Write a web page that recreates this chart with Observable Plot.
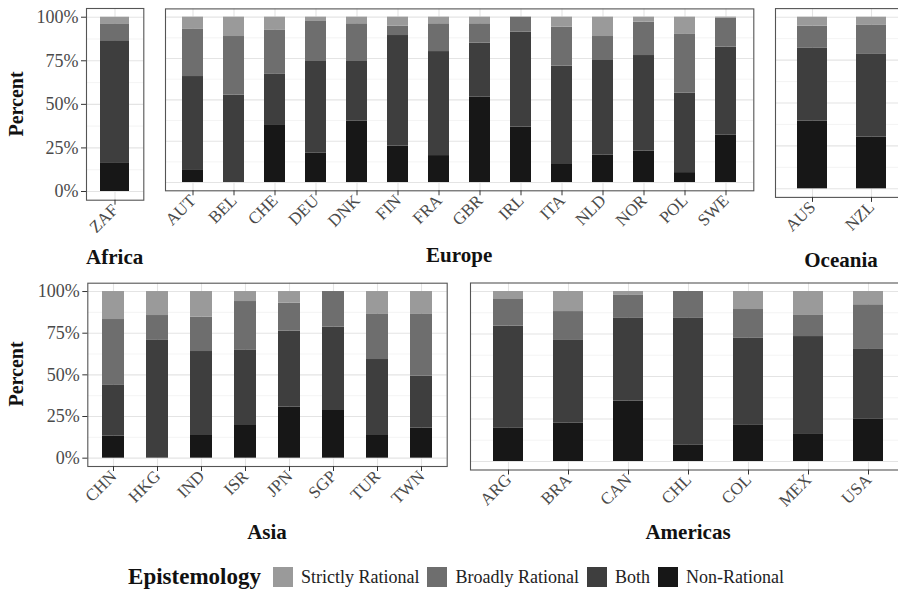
<!DOCTYPE html>
<html>
<head>
<meta charset="utf-8">
<script src="https://cdn.jsdelivr.net/npm/d3@7"></script>
<script src="https://cdn.jsdelivr.net/npm/@observablehq/plot@0.6"></script>
<style>
  html, body { margin: 0; padding: 0; background: #fff; }
  #wrap { position: relative; width: 898px; height: 594px; overflow: hidden; background: #fff; font-family: "Liberation Serif", serif; }
  #wrap svg { position: absolute; left: 0; top: 0; }
  .facet { position: absolute; font-weight: bold; font-size: 21px; line-height: 1; color: #111; transform: translateX(-50%); white-space: nowrap; }
  .ylab { position: absolute; font-weight: bold; font-size: 20px; line-height: 1; color: #111; transform: translate(-50%, -50%) rotate(-90deg); white-space: nowrap; }
  #legend { position: absolute; left: 0; width: 916px; top: 564px; display: flex; justify-content: center; align-items: center; font-size: 18px; color: #222; white-space: nowrap; }
  #legend .title { font-weight: bold; font-size: 23px; margin-right: 8px; color: #111; }
  #legend .sw { width: 20px; height: 20px; margin: 0 8px 0 4px; }
  #legend .lab { margin-right: 4px; }
</style>
</head>
<body>
<div id="wrap"></div>
<script>
// ---- data ----
const categories = ["Non-Rational", "Both", "Broadly Rational", "Strictly Rational"];
const legendOrder = ["Strictly Rational", "Broadly Rational", "Both", "Non-Rational"];
const fillColors = ["#171717", "#3e3e3e", "#6e6e6e", "#9a9a9a"];

const africa = ["ZAF"];
const europe = ["AUT","BEL","CHE","DEU","DNK","FIN","FRA","GBR","IRL","ITA","NLD","NOR","POL","SWE"];
const oceania = ["AUS","NZL"];
const asia = ["CHN","HKG","IND","ISR","JPN","SGP","TUR","TWN"];
const americas = ["ARG","BRA","CAN","CHL","COL","MEX","USA"];

const countries = [...africa, ...europe, ...oceania, ...asia, ...americas];
// percentages per country (same order as countries)
const nonRational      = [16.5, 7.3, 0, 34.5, 17.7, 37.1, 22.0, 16.3, 51.6, 33.5, 10.9, 16.5, 19.0, 6.0, 28.8, 39.4, 30.1, 13.2, 0, 13.6, 19.6, 30.6, 28.6, 13.6, 18.0, 19.8, 22.5, 35.5, 9.8, 21.6, 15.9, 25.1];
const both             = [70.0, 56.8, 52.8, 31.2, 55.5, 36.1, 66.9, 62.9, 32.7, 57.4, 59.5, 57.3, 57.8, 48.0, 53.1, 42.7, 48.2, 30.8, 71.0, 50.4, 45.4, 45.6, 50.0, 45.6, 31.2, 59.8, 48.7, 49.0, 74.7, 51.1, 57.6, 41.2];
const broadlyRational  = [9.7, 28.8, 35.5, 26.6, 24.2, 22.8, 5.7, 16.8, 11.7, 9.1, 23.6, 14.5, 20.2, 35.9, 17.5, 12.7, 17.2, 39.2, 14.6, 20.6, 29.0, 16.8, 21.4, 27.4, 37.4, 15.7, 17.0, 13.5, 15.5, 16.7, 12.4, 25.9];
const strictlyRational = [3.8, 7.1, 11.7, 7.7, 2.6, 4.0, 5.4, 4.0, 4.0, 0, 6.0, 11.7, 3.0, 10.1, 0.6, 5.2, 4.5, 16.8, 14.4, 15.4, 6.0, 7.0, 0, 13.4, 13.4, 4.7, 11.8, 2.0, 0, 10.6, 14.1, 7.8];

const yMajor = [0, 0.25, 0.5, 0.75, 1];
const yMinor = [0.125, 0.375, 0.625, 0.875];

// build long table
const series = [nonRational, both, broadlyRational, strictlyRational];
const rows = [];
countries.forEach((c, i) => {
  categories.forEach((cat, k) => rows.push({country: c, category: cat, value: series[k][i] / 100}));
});

const wrap = document.getElementById("wrap");
const W = 920, H = 594;

const panels = [
  {name: "Africa",   list: africa,   L: 86,   R: 143.3, T: 8,     B: 199.7, po: 0.24, yaxis: true,  titleY: 265},
  {name: "Europe",   list: europe,   L: 165,  R: 753.3, T: 8.4,   B: 190.3, po: 0.35, yaxis: false, titleY: 263},
  {name: "Oceania",  list: oceania,  L: 775,  R: 907,   T: 8.1,   B: 196.9, po: 0.35, yaxis: false, titleY: 268},
  {name: "Asia",     list: asia,     L: 87.3, R: 446.7, T: 282.7, B: 466,   po: 0.33, yaxis: true,  titleY: 540},
  {name: "Americas", list: americas, L: 470,  R: 906,   T: 282.5, B: 469.5, po: 0.35, yaxis: false, titleY: 540}
];

panels.forEach(p => {
  const data = rows.filter(r => p.list.includes(r.country));
  const marks = [
    Plot.gridY(yMinor, {stroke: "#ededed", strokeWidth: 0.6, strokeOpacity: 1}),
    Plot.gridY(yMajor, {stroke: "#e4e4e4", strokeWidth: 1.1, strokeOpacity: 1}),
    Plot.gridX({stroke: "#e4e4e4", strokeWidth: 1.1, strokeOpacity: 1}),
    Plot.barY(data, {x: "country", y: "value", fill: "category"}),
    Plot.frame({stroke: "#555", strokeWidth: 1.1}),
    Plot.axisX({tickSize: 5, tickPadding: 2, tickRotate: -45, fontSize: 17, stroke: "#333", color: "#4a4a4a", label: null})
  ];
  if (p.yaxis) {
    marks.push(Plot.axisY(yMajor, {tickSize: 5, tickPadding: 3, fontSize: 18, stroke: "#333", color: "#4a4a4a", label: null, tickFormat: d => Math.round(d * 100) + "%"}));
  }
  const svg = Plot.plot({
    width: W, height: H,
    marginLeft: p.L, marginRight: W - p.R, marginTop: p.T, marginBottom: H - p.B,
    x: {domain: p.list, paddingInner: 0.5, paddingOuter: p.po, align: 0.5, label: null},
    y: {domain: [-0.05, 1.05], label: null, axis: p.yaxis ? undefined : null},
    color: {domain: categories, range: fillColors},
    style: {background: "transparent", fontFamily: "Liberation Serif", maxWidth: "none", overflow: "visible"},
    marks
  });
  wrap.appendChild(svg);

  const t = document.createElement("div");
  t.className = "facet";
  t.textContent = p.name;
  t.style.left = ((p.L + p.R) / 2) + "px";
  t.style.top = (p.titleY - 0.837 * 21) + "px";
  wrap.appendChild(t);
});

[[16, 104], [16, 374]].forEach(([x, y]) => {
  const d = document.createElement("div");
  d.className = "ylab";
  d.textContent = "Percent";
  d.style.left = x + "px";
  d.style.top = y + "px";
  wrap.appendChild(d);
});

const legend = document.createElement("div");
legend.id = "legend";
const lt = document.createElement("span");
lt.className = "title";
lt.textContent = "Epistemology";
legend.appendChild(lt);
legendOrder.forEach(cat => {
  const sw = document.createElement("span");
  sw.className = "sw";
  sw.style.background = fillColors[categories.indexOf(cat)];
  legend.appendChild(sw);
  const lab = document.createElement("span");
  lab.className = "lab";
  lab.textContent = cat;
  legend.appendChild(lab);
});
wrap.appendChild(legend);
</script>
</body>
</html>
